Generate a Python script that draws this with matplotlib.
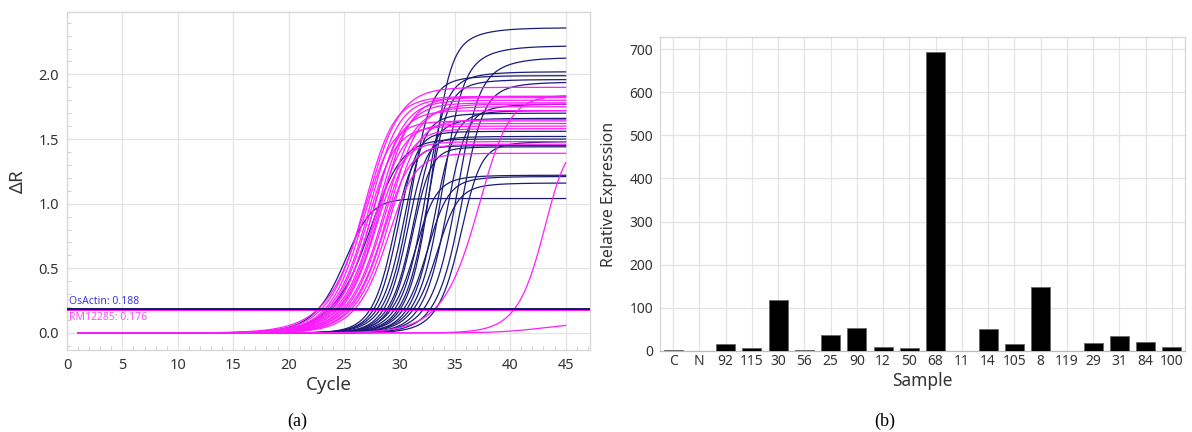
import numpy as np
import matplotlib
matplotlib.use("Agg")
import matplotlib.pyplot as plt
from matplotlib.ticker import MultipleLocator

plt.rcParams['font.family'] = ['Noto Sans', 'DejaVu Sans']

# ---------------- data ----------------
cycles = np.arange(1, 46)
actin_threshold = 0.188
rm_threshold = 0.176

# OsActin amplification curves: threshold cycle (Ct), plateau, steepness,
# and the part of the plateau reached only slowly after the bend
actin_ct = [22.7, 23.7, 27.4, 27.7, 28.0, 28.3, 28.6, 28.9, 29.1, 29.3, 29.6,
            29.9, 30.1, 30.4, 30.7, 31.0, 31.3, 31.7, 32.2, 32.8, 33.3]
actin_plateau = [1.04, 1.50, 1.45, 1.56, 1.70, 1.99, 1.52, 1.66, 1.44, 1.22, 2.02,
                 1.96, 2.36, 1.21, 1.72, 2.22, 1.16, 1.77, 2.13, 1.94, 1.48]
actin_slope = [1.09, 1.3, 0.75, 0.75, 0.8, 0.8, 0.75, 0.8, 0.75, 0.85, 0.8,
               0.8, 0.75, 0.85, 0.8, 0.8, 0.85, 0.8, 0.85, 0.85, 0.8]
actin_tail = [0.0, 0.0, 0.05, 0.05, 0.1, 0.15, 0.05, 0.1, 0.05, 0.1, 0.2,
              0.15, 0.3, 0.1, 0.1, 0.35, 0.1, 0.15, 0.35, 0.2, 0.1]

# RM12285 amplification curves
rm_ct = [22.7, 23.0, 23.3, 23.5, 23.7, 23.9, 24.0, 24.2, 24.4, 24.5,
         24.7, 24.9, 25.1, 25.3, 25.5, 25.7, 26.0, 33.2, 40.4]
rm_plateau = [1.90, 1.83, 1.64, 1.82, 1.60, 1.80, 1.72, 1.78, 1.62, 1.83,
              1.48, 1.75, 1.58, 1.77, 1.46, 1.65, 1.39, 1.84, 1.50]
rm_slope = [1.35, 1.2, 1.15, 1.2, 1.15, 1.2, 1.15, 1.2, 1.15, 1.2,
            1.1, 1.2, 1.15, 1.2, 1.1, 1.15, 1.1, 1.25, 0.95]
rm_tail = [0.1, 0.1, 0.05, 0.1, 0.05, 0.1, 0.05, 0.1, 0.05, 0.1,
           0.05, 0.1, 0.05, 0.1, 0.05, 0.05, 0.05, 0.05, 0.0]
# one RM12285 well without real amplification
rm_flat_plateau = 0.08
rm_flat_mid = 43.0
rm_flat_slope = 2.0

# Relative expression bar chart
samples = ['C', 'N', '92', '115', '30', '56', '25', '90', '12', '50', '68',
           '11', '14', '105', '8', '119', '29', '31', '84', '100']
expression = [2, 0, 17, 8, 118, 3, 37, 53, 10, 6, 693,
              0, 51, 16, 149, 1, 18, 34, 20, 10]

SHAPE = 0.6        # Richards asymmetry of the exponential/linear phase
TAIL_SLOPE = 2.0   # slow approach to the plateau


def amp(x, mid, plateau, slope, tail):
    fast = (plateau - tail) * (1.0 + np.exp(-(x - mid) / slope)) ** (-SHAPE)
    slow = tail / (1.0 + np.exp(-(x - mid - 0.5) / TAIL_SLOPE))
    return fast + slow


def curve(x, ct, plateau, slope, tail, thr):
    lo, hi = ct - 20.0, ct + 20.0
    for _ in range(60):
        mid = 0.5 * (lo + hi)
        if amp(ct, mid, plateau, slope, tail) > thr:
            lo = mid
        else:
            hi = mid
    return amp(x, 0.5 * (lo + hi), plateau, slope, tail)


# ---------------- figure ----------------
fig = plt.figure(figsize=(11.92, 4.32), dpi=100)
fig.patch.set_facecolor('white')

grid_c = '#e3e3e3'
spine_c = '#d6d6d6'
text_c = '#333333'
navy = '#1c1c78'
magenta = '#ff1aff'

xs = np.linspace(cycles[0], cycles[-1], 441)

# ---- left: amplification plot ----
ax1 = fig.add_axes([67 / 1192, (432 - 350) / 432, (590 - 67) / 1192, (350 - 12) / 432])
ax1.set_xlim(0, 47.2)
ax1.set_ylim(-0.1315, 2.4826)

for ct, p, s, d in zip(actin_ct, actin_plateau, actin_slope, actin_tail):
    ax1.plot(xs, curve(xs, ct, p, s, d, actin_threshold),
             color=navy, lw=0.9, zorder=3)
for ct, p, s, d in zip(rm_ct, rm_plateau, rm_slope, rm_tail):
    ax1.plot(xs, curve(xs, ct, p, s, d, actin_threshold),
             color=magenta, lw=0.9, zorder=3)
flat = rm_flat_plateau / (1.0 + np.exp(-(xs - rm_flat_mid) / rm_flat_slope))
ax1.plot(xs, flat, color=magenta, lw=0.9, zorder=3)

ax1.axhline(rm_threshold, color='#ff00ff', lw=1.3, zorder=4)
ax1.axhline(actin_threshold, color='#14145e', lw=1.4, zorder=5)
ax1.text(0.2, actin_threshold + 0.01, 'OsActin: 0.188', color='#3a3ad6', fontsize=7.5,
         va='bottom', ha='left', zorder=6)
ax1.text(0.2, rm_threshold - 0.012, 'RM12285: 0.176', color='#ff4dff', fontsize=7.5,
         va='top', ha='left', zorder=6)

ax1.xaxis.set_major_locator(MultipleLocator(5))
ax1.xaxis.set_minor_locator(MultipleLocator(1))
ax1.yaxis.set_minor_locator(MultipleLocator(0.1))
ax1.set_yticks([0, 0.5, 1.0, 1.5, 2.0])
ax1.set_yticklabels(['0.0', '0.5', '1.0', '1.5', '2.0'])
ax1.grid(True, which='major', color=grid_c, lw=0.9, zorder=0)
ax1.tick_params(which='major', length=0, labelsize=10.5, labelcolor=text_c, pad=6)
ax1.tick_params(which='minor', direction='in', length=3, color='#cfcfcf', width=0.7)
for sp in ax1.spines.values():
    sp.set_color(spine_c)
    sp.set_linewidth(0.9)
ax1.set_xlabel('Cycle', fontsize=13.5, color=text_c, labelpad=2)
ax1.set_ylabel('ΔR', fontsize=13.5, color=text_c, labelpad=8)

# ---- right: relative expression ----
ax2 = fig.add_axes([660 / 1192, (432 - 351) / 432, (1185 - 660) / 1192, (351 - 37) / 432])
xpos = np.arange(len(samples))
ax2.bar(xpos, expression, width=0.72, color='black', edgecolor='#666666', linewidth=0.6, zorder=3)
ax2.set_xlim(-0.5, len(samples) - 0.5)
ax2.set_ylim(0, 728)
ax2.set_xticks(xpos)
ax2.set_xticklabels(samples)
ax2.set_yticks(np.arange(0, 701, 100))
ax2.grid(True, color=grid_c, lw=0.9, zorder=0)
ax2.tick_params(axis='x', length=0, labelsize=10, labelcolor=text_c, pad=2)
ax2.tick_params(axis='y', length=0, labelsize=10, labelcolor=text_c, pad=5)
for sp in ax2.spines.values():
    sp.set_color(spine_c)
    sp.set_linewidth(0.9)
ax2.spines['bottom'].set_color('#bbbbbb')
ax2.set_xlabel('Sample', fontsize=12.5, color=text_c, labelpad=2)
ax2.set_ylabel('Relative Expression', fontsize=11.5, color=text_c, labelpad=9)

# ---- captions ----
fig.text(297 / 1192, 1 - 421 / 432, '(a)', ha='center', va='center',
         fontsize=13, family=['Liberation Serif', 'DejaVu Serif'])
fig.text(885 / 1192, 1 - 421 / 432, '(b)', ha='center', va='center',
         fontsize=13, family=['Liberation Serif', 'DejaVu Serif'])

fig.savefig('out.png', dpi=100, facecolor='white')
